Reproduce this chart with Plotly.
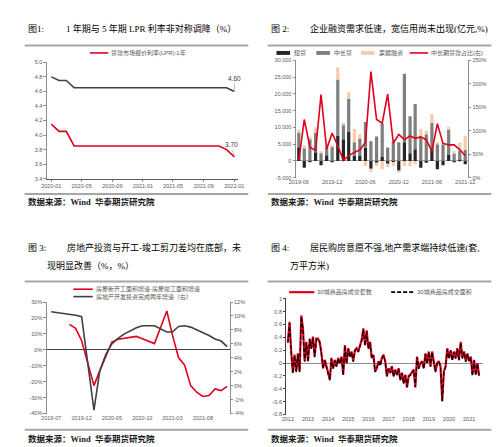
import pandas as pd
import plotly.graph_objects as go

W, H = 500, 447

# ---------- 图1: LPR ----------
lpr_months = pd.date_range("2020-01-01", "2022-01-01", freq="MS")
lpr_1y = [4.15, 4.05, 4.05, 3.85, 3.85, 3.85, 3.85, 3.85, 3.85, 3.85,
          3.85, 3.85, 3.85, 3.85, 3.85, 3.85, 3.85, 3.85, 3.85, 3.85,
          3.85, 3.85, 3.85, 3.80, 3.70]
lpr_5y = [4.80, 4.75, 4.75, 4.65, 4.65, 4.65, 4.65, 4.65, 4.65, 4.65,
          4.65, 4.65, 4.65, 4.65, 4.65, 4.65, 4.65, 4.65, 4.65, 4.65,
          4.65, 4.65, 4.65, 4.65, 4.60]

# ---------- 图2: 企业贷款 (亿元) ----------
credit_months = pd.date_range("2019-06-01", "2021-12-01", freq="MS")
credit_short = [4100, -2000, -300, 2600, -1300, 1700, -200, 7500, 6500, 8700,
                1500, 1500, 4000, -2300, -500, 1200, -800, -300, -3000, 5600,
                2300, 3500, -2000, -500, 3800, -2500, -1300, 1800, -200, 300,
                -1000]
credit_mid = [4400, 3800, 6500, 5700, 2300, 2200, 4300, 16800, 4400, 9800,
              4100, 5200, 7600, 5900, 7300, 10000, 4000, 5600, 5600, 20400,
              11000, 13500, 7000, 8000, 7600, 5000, 5000, 7400, 2200, 2900,
              3300]
credit_bill = [800, 800, 700, 1700, 300, 400, 500, 3600, 500, 2000,
               3900, 1300, -1500, -1000, -1000, -2500, -1000, -1200, -500, -1500,
               -1500, -1000, 2500, 1000, 2600, 600, 500, 900, 800, 2300,
               4200]
midlong_share = [37, 124, 65, 58, 177, 61, 95, 68, 37, 47,
                 54, 59, 75, 226, 124, 116, 178, 74, 92, 81,
                 89, 84, 87, 81, 56, 115, 73, 70, 70, 60,
                 47]

# ---------- 图3: 地产投资与开工-竣工 ----------
re_months = pd.date_range("2019-07-01", "2021-12-01", freq="MS")
start_minus_finish = [None, None, None, 16.0, 13.5, 5.7, None, -22.5, -13.2, -4.5,
                      4.9, 6.7, 7.4, 8.0, 8.4, 7.0, 5.3, 3.9, None, 24.4,
                      9.4, -5.0, -9.5, -22.5, -26.6, -29.3, -28.7, -24.6, -25.6, -22.9]
invest_2y = [10.6, 10.5, 10.4, 10.3, 10.1, 9.9, None, -3.5, 2.1, 4.5,
             6.0, 6.8, 7.4, 7.9, 8.3, 8.6, 8.6, 8.6, None, 7.7,
             7.7, 8.5, 8.6, 8.4, 8.0, 7.7, 7.2, 6.7, 6.4, 5.6]

# ---------- 图4: 30城商品房成交 ----------
deal_months = pd.date_range("2012-01-01", "2021-07-01", freq="MS")
deal_units = [0.33, 0.64, 0.18, -0.15, 0.13, -0.13, 0.15, -0.13, 0.74, 0.54,
              0.03, 0.33, 0.03, 0.38, 0.23, 0.41, 0.10, 0.38, 0.38, 0.33,
              0.15, -0.08, 0.05, -0.05, -0.13, -0.26, 0.08, -0.08, 0.05, -0.05,
              0.08, 0.00, 0.10, -0.18, 0.28, 0.00, 0.23, 0.10, 0.18, 0.03,
              0.20, 0.23, 0.18, 0.26, 0.36, 0.54, 0.28, 0.51, 0.23, 0.33,
              0.08, 0.13, -0.13, -0.08, 0.03, -0.03, 0.08, 0.13, 0.03, -0.20,
              -0.08, -0.15, -0.05, -0.20, -0.10, -0.18, -0.08, -0.26, -0.15, -0.31,
              -0.18, -0.38, -0.20, -0.18, -0.15, -0.10, -0.38, 0.10, -0.08, 0.00,
              0.03, -0.08, 0.15, 0.00, 0.18, -0.05, 0.18, 0.05, -0.13, 0.00,
              0.03, -0.05, -0.59, -0.13, -0.05, 0.23, 0.08, 0.20, 0.05, 0.18,
              0.08, 0.23, 0.05, 0.33, 0.08, 0.18, 0.03, 0.15, 0.03, 0.10,
              -0.18, 0.05, -0.18, 0.00, -0.20]
deal_area = [0.31, 0.62, 0.17, -0.16, 0.12, -0.14, 0.14, -0.14, 0.72, 0.52,
             0.02, 0.32, 0.02, 0.37, 0.22, 0.40, 0.09, 0.37, 0.37, 0.32,
             0.14, -0.09, 0.04, -0.06, -0.14, -0.27, 0.07, -0.09, 0.04, -0.06,
             0.07, -0.01, 0.09, -0.19, 0.27, -0.01, 0.22, 0.09, 0.17, 0.02,
             0.19, 0.22, 0.17, 0.25, 0.35, 0.52, 0.27, 0.49, 0.22, 0.32,
             0.07, 0.12, -0.14, -0.09, 0.02, -0.04, 0.07, 0.12, 0.02, -0.21,
             -0.09, -0.16, -0.06, -0.21, -0.11, -0.19, -0.09, -0.27, -0.16, -0.32,
             -0.19, -0.37, -0.21, -0.19, -0.16, -0.11, -0.37, 0.09, -0.09, -0.01,
             0.02, -0.09, 0.14, -0.01, 0.17, -0.06, 0.17, 0.04, -0.14, -0.01,
             0.02, -0.06, -0.60, -0.14, -0.06, 0.21, 0.07, 0.19, 0.04, 0.17,
             0.07, 0.22, 0.04, 0.31, 0.07, 0.17, 0.02, 0.14, 0.02, 0.09,
             -0.20, 0.04, -0.19, -0.01, -0.21]

# tick labels
p2_left_vals = [-5000, 0, 5000, 10000, 15000, 20000, 25000, 30000]
p2_left_text = ["-5,000", "0", "5,000", "10,000", "15,000", "20,000", "25,000", "30,000"]
p2_right_vals = [0, 50, 100, 150, 200, 250]
p2_right_text = ["0%", "50%", "100%", "150%", "200%", "250%"]
p3_left_vals = [-40, -30, -20, -10, 0, 10, 20, 30]
p3_left_text = ["-40%", "-30%", "-20%", "-10%", "0%", "10%", "20%", "30%"]
p3_right_vals = [-4, -2, 0, 2, 4, 6, 8, 10, 12]
p3_right_text = ["-4%", "-2%", "0%", "2%", "4%", "6%", "8%", "10%", "12%"]
p4_vals = [-0.8, -0.6, -0.4, -0.2, 0, 0.2, 0.4, 0.6, 0.8, 1.0]
p4_text = ["-0.8", "-0.6", "-0.4", "-0.2", "0", "0.2", "0.4", "0.6", "0.8", "1"]

RED = "#e0001b"
DARK = "#404040"
GRAY_BAR = "#7f7f7f"
BLACK_BAR = "#262626"
PINK = "#f8cbad"
AX = "#8c8c8c"
TICK_FONT = dict(family="Liberation Sans, Noto Sans CJK SC", size=5.5, color="#595959")
CJK = "Liberation Serif, Noto Sans CJK SC"
SANS = "Liberation Sans, Noto Sans CJK SC"


def fx(v):
    return v / W


def fy(v):
    return 1 - v / H


fig = go.Figure()

# --- panel 1 ---
fig.add_trace(go.Scatter(x=lpr_months, y=lpr_5y, mode="lines",
                         line=dict(color=DARK, width=1.6), xaxis="x", yaxis="y"))
fig.add_trace(go.Scatter(x=lpr_months, y=lpr_1y, mode="lines",
                         line=dict(color=RED, width=1.6), xaxis="x", yaxis="y"))

# --- panel 2 ---
fig.add_trace(go.Bar(x=credit_months, y=credit_short, marker_color=BLACK_BAR,
                     marker_line_width=0, xaxis="x2", yaxis="y2"))
fig.add_trace(go.Bar(x=credit_months, y=credit_mid, marker_color=GRAY_BAR,
                     marker_line_width=0, xaxis="x2", yaxis="y2"))
fig.add_trace(go.Bar(x=credit_months, y=credit_bill, marker_color=PINK,
                     marker_line_width=0, xaxis="x2", yaxis="y2"))
fig.add_trace(go.Scatter(x=credit_months, y=midlong_share, mode="lines",
                         line=dict(color=RED, width=1.6), xaxis="x2", yaxis="y3"))

# --- panel 3 ---
fig.add_trace(go.Scatter(x=re_months, y=start_minus_finish, mode="lines", connectgaps=True,
                         line=dict(color=RED, width=1.6), xaxis="x3", yaxis="y4"))
fig.add_trace(go.Scatter(x=re_months, y=invest_2y, mode="lines", connectgaps=True,
                         line=dict(color=DARK, width=1.6), xaxis="x3", yaxis="y5"))

# --- panel 4 ---
fig.add_trace(go.Scatter(x=deal_months, y=deal_units, mode="lines",
                         line=dict(color=RED, width=2.2), xaxis="x4", yaxis="y6"))
fig.add_trace(go.Scatter(x=deal_months, y=deal_area, mode="lines",
                         line=dict(color="#000000", width=1.2, dash="4px,2px"),
                         xaxis="x4", yaxis="y6"))

axis_base = dict(showgrid=False, zeroline=False, tickfont=TICK_FONT,
                 linecolor=AX, linewidth=0.8, tickcolor=AX, ticklen=2.5, tickwidth=0.8)

fig.update_layout(
    width=W, height=H, margin=dict(l=0, r=0, t=0, b=0),
    paper_bgcolor="white", plot_bgcolor="white", showlegend=False,
    barmode="relative", bargap=0.37,
    xaxis=dict(axis_base, domain=[fx(32.7), fx(229)], anchor="y", type="date",
               range=["2019-12-14", "2022-01-14"], tick0="2020-01-01", dtick="M4",
               tickformat="%Y-%m", showline=True, linecolor="#595959",
               ticks="outside", ticklen=2),
    yaxis=dict(axis_base, domain=[fy(170), fy(52)], anchor="x", range=[3.4, 5.0],
               dtick=0.2, tickformat=".1f", showline=True, ticks="outside"),
    xaxis2=dict(axis_base, domain=[fx(289), fx(466)], anchor="y2", type="date",
                range=["2019-05-16", "2021-12-16"],
                tickvals=[credit_months[i] for i in range(0, 31, 6)],
                tickformat="%Y-%m", showline=False, ticks=""),
    yaxis2=dict(axis_base, domain=[fy(169), fy(50)], anchor="x2", range=[-5000, 30000],
                tickvals=p2_left_vals, ticktext=p2_left_text, showline=True,
                ticks="outside", zeroline=True, zerolinecolor="#a6a6a6", zerolinewidth=0.8),
    yaxis3=dict(axis_base, overlaying="y2", anchor="x2", side="right", range=[0, 250],
                tickvals=p2_right_vals, ticktext=p2_right_text, showline=True, ticks="outside"),
    xaxis3=dict(axis_base, domain=[fx(32.7), fx(220.7)], anchor="y4", type="date",
                range=["2019-06-09", "2021-12-13"], tick0="2019-07-01", dtick="M5",
                tickformat="%Y-%m", showline=False, ticks=""),
    yaxis4=dict(axis_base, domain=[fy(408), fy(295)], anchor="x3", range=[-40, 30],
                tickvals=p3_left_vals, ticktext=p3_left_text, showline=True,
                ticks="outside", zeroline=True, zerolinecolor="#404040", zerolinewidth=0.8),
    yaxis5=dict(axis_base, overlaying="y4", anchor="x3", side="right", range=[-4, 12],
                tickvals=p3_right_vals, ticktext=p3_right_text, showline=True, ticks="outside"),
    xaxis4=dict(axis_base, domain=[fx(279.3), fx(481)], anchor="y6", type="date",
                range=["2011-12-07", "2021-09-01"], tick0="2012-01-01", dtick="M12",
                tickformat="%Y", showline=False, ticks=""),
    yaxis6=dict(axis_base, domain=[fy(409), fy(291.7)], anchor="x4", range=[-0.8, 1.0],
                tickvals=p4_vals, ticktext=p4_text, showline=True, linecolor="#404040",
                tickcolor="#404040", ticks="outside", zeroline=True,
                zerolinecolor="#8c8c8c", zerolinewidth=0.8),
)

# end-value labels on panel 1
fig.add_annotation(x=lpr_months[-1], y=lpr_5y[-1], xref="x", yref="y",
                   text=f"{lpr_5y[-1]:.2f}", showarrow=True, arrowhead=0, arrowwidth=0.6,
                   arrowcolor="#8c8c8c", ax=0, ay=-13,
                   font=dict(family=SANS, size=6.5, color="#404040"))
fig.add_annotation(x=lpr_months[-1], y=lpr_1y[-1], xref="x", yref="y",
                   text=f"{lpr_1y[-1]:.2f}", showarrow=True, arrowhead=0, arrowwidth=0.6,
                   arrowcolor="#8c8c8c", ax=-3, ay=-12,
                   font=dict(family=SANS, size=6.5, color="#404040"))


def text(x, y, s, size, color="#000000", family=CJK, bold=False):
    fig.add_annotation(x=fx(x), y=fy(y), xref="paper", yref="paper",
                       text=f"<b>{s}</b>" if bold else s, showarrow=False,
                       xanchor="left", yanchor="middle",
                       font=dict(family=family, size=size, color=color))


def rule(x0, x1, y):
    fig.add_shape(type="line", xref="paper", yref="paper", x0=fx(x0), x1=fx(x1),
                  y0=fy(y), y1=fy(y), line=dict(color="#a6a6a6", width=2))


def key_line(x0, x1, y, color, width=1.6, dash="solid"):
    fig.add_shape(type="line", xref="paper", yref="paper", x0=fx(x0), x1=fx(x1),
                  y0=fy(y), y1=fy(y), line=dict(color=color, width=width, dash=dash))


def key_box(x0, x1, y, color):
    fig.add_shape(type="rect", xref="paper", yref="paper", x0=fx(x0), x1=fx(x1),
                  y0=fy(y + 2), y1=fy(y - 2), line=dict(width=0), fillcolor=color)


# titles
text(11, 18, "图1:", 9)
text(50, 18, "1 年期与 5 年期 LPR 利率非对称调降（%）", 9)
text(261, 18, "图 2:", 9)
text(301, 18, "企业融资需求低速，宽信用尚未出现(亿元,%)", 9)
text(11, 240, "图 3:", 9)
text(51, 240, "房地产投资与开工-竣工剪刀差均在底部，未", 9)
text(31, 258, "现明显改善（%，%）", 9)
text(261, 240, "图 4:", 9)
text(301, 240, "居民购房意愿不强,地产需求端持续低速(套,", 9)
text(281, 258, "万平方米)", 9)

# rules + source lines
for x0, x1 in [(10, 240), (260, 490)]:
    rule(x0, x1, 35)
    rule(x0, x1, 185.5)
    rule(x0, x1, 274.3)
    rule(x0, x1, 424.5)
for x0, y in [(11, 194), (261, 194), (11, 433.5), (261, 433.5)]:
    text(x0, y, "数据来源：Wind  华泰期货研究院", 8.5, color="#1a1a1a", bold=True)

# legends
LEG = dict(size=6, color="#595959", family=SANS)
key_line(77, 96, 42.5, RED)
text(97, 42.5, "贷款市场报价利率(LPR):1年", **LEG)

key_box(269, 283, 42.5, BLACK_BAR)
text(285, 42.5, "短贷", **LEG)
key_box(310, 324, 42.5, GRAY_BAR)
text(326, 42.5, "中长贷", **LEG)
key_box(356, 370, 42.5, PINK)
text(372, 42.5, "票据融资", **LEG)
key_line(406, 425, 42.5, RED)
text(426, 42.5, "中长期贷款占比(右)", **LEG)

key_line(60, 80, 282, RED)
text(81, 282, "房屋新开工面积增速-房屋竣工面积增速", **LEG)
key_line(60, 80, 289.5, DARK)
text(81, 289.5, "房地产开发投资完成两年增速（右）", **LEG)

key_line(282, 308, 285, RED, width=2.2)
text(309, 285, "30城商品房成交套数", **LEG)
key_line(387, 411, 285, "#000000", width=1.6, dash="4px,2px")
text(412, 285, "30城商品房成交面积", **LEG)

fig.write_html("out.html")
